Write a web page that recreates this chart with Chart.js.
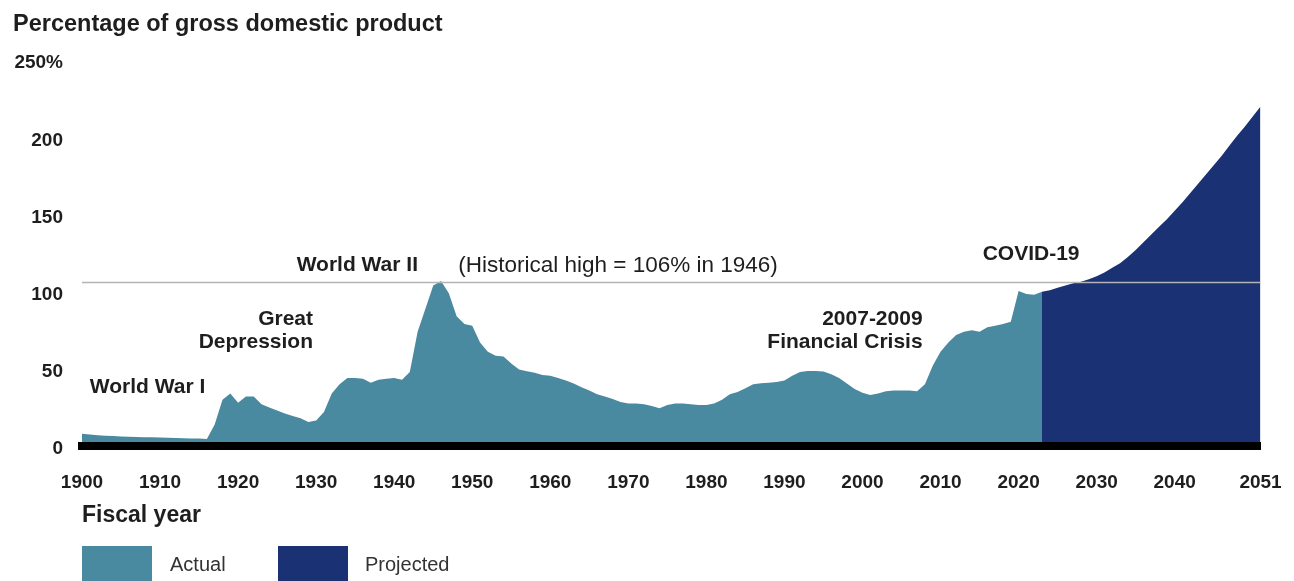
<!DOCTYPE html>
<html>
<head>
<meta charset="utf-8">
<script src="https://cdn.jsdelivr.net/npm/chart.js@4.4.1/dist/chart.umd.min.js"></script>
<style>
  body { margin: 0; background: #fff; }
  #wrap { position: relative; width: 1294px; height: 581px; overflow: hidden; }
  .legend-item { position: absolute; top: 546px; height: 40px; }
  .legend-box { position: absolute; left: 0; top: 0; width: 70px; height: 40px; }
  .legend-text { position: absolute; top: 7px; white-space: nowrap;
    font: 20px 'Liberation Sans', Arial, sans-serif; color: #333; }
</style>
</head>
<body>
<div id="wrap">
  <canvas id="debtChart" width="1294" height="581"></canvas>
  <div class="legend-item" style="left:82px">
    <div class="legend-box" style="background:#4a8aa0"></div>
    <div class="legend-text" style="left:88px">Actual</div>
  </div>
  <div class="legend-item" style="left:278px">
    <div class="legend-box" style="background:#1a3273"></div>
    <div class="legend-text" style="left:87px">Projected</div>
  </div>
</div>
<script>
// ===== DATA =====
const actualStartYear = 1900;
const actualDebt = [
  8, 7.5, 7, 6.7, 6.4, 6.2, 6, 5.8, 5.7, 5.6,               // 1900s
  5.5, 5.3, 5.2, 5, 4.9, 4.8, 4.5, 14, 30, 34,              // 1910s
  28, 32, 32, 27, 25, 23, 21, 19.5, 18, 15.5,               // 1920s
  16.5, 22, 34, 40, 44, 44, 43.5, 41, 43, 43.5,             // 1930s
  44, 43, 48, 74, 89, 104, 107, 99, 84, 79,                 // 1940s
  78, 67, 61, 58.5, 58, 53.5, 49.5, 48.5, 47.5, 46,         // 1950s
  45.5, 44, 42.5, 40.5, 38, 36, 33.5, 32, 30.5, 28.5,       // 1960s
  27.5, 27.5, 27, 26, 24.5, 26.5, 27.5, 27.5, 27, 26.5,     // 1970s
  26.5, 27.5, 30, 33.5, 35, 37.5, 40, 40.6, 41, 41.5,       // 1980s
  42.5, 45.5, 48, 48.6, 48.6, 48.3, 46.5, 44, 40.5, 37,     // 1990s
  34.5, 33, 34, 35.5, 36, 36, 36, 35.5, 40, 52,             // 2000s
  61, 67, 72, 74, 75, 74, 77, 78, 79, 80.5,                 // 2010s
  100.5, 98.5, 98, 100                                      // 2020s
];
const projectedStartYear = 2023;
const projectedDebt = [
  100, 101, 102.5, 104, 105.5, 106.5, 108, 110, 112.5, 115.5,
  118.5, 122.5, 127, 132, 137, 142, 147, 152.5, 158, 164,
  170, 176, 182, 188, 194.5, 201, 207, 213.5, 220
];
const historicalHigh = 106;
const xTickYears = [1900, 1910, 1920, 1930, 1940, 1950, 1960, 1970, 1980, 1990, 2000, 2010, 2020, 2030, 2040, 2051];
const yTickValues = [0, 50, 100, 150, 200, 250];

// ===== NOTES (anchored in data space) =====
const notes = [
  { text: 'World War I', year: 1901, value: 38, align: 'left' },
  { text: 'Great', year: 1929.6, value: 82, align: 'right' },
  { text: 'Depression', year: 1929.6, value: 67, align: 'right' },
  { text: 'World War II', year: 1927.5, value: 117, align: 'left' },
  { text: '(Historical high = 106% in 1946)', year: 1948.2, value: 117, align: 'left', normal: true },
  { text: '2007-2009', year: 2007.7, value: 82, align: 'right' },
  { text: 'Financial Crisis', year: 2007.7, value: 67, align: 'right' },
  { text: 'COVID-19', year: 2015.4, value: 124, align: 'left' }
];

const FONT = "'Liberation Sans', Arial, sans-serif";
const TEAL = '#4a8aa0';
const NAVY = '#1a3273';

const toPoints = (start, vals) => vals.map((v, i) => ({ x: start + i, y: v }));

const notesPlugin = {
  id: 'notes',
  afterDatasetsDraw(chart) {
    const { ctx, scales } = chart;
    ctx.save();
    ctx.fillStyle = '#1e1e1e';
    ctx.textBaseline = 'middle';
    notes.forEach(n => {
      ctx.font = n.normal ? '22.5px ' + FONT : 'bold 21px ' + FONT;
      ctx.textAlign = n.align;
      ctx.fillText(n.text, scales.x.getPixelForValue(n.year), scales.y.getPixelForValue(n.value));
    });
    ctx.restore();
  }
};

new Chart(document.getElementById('debtChart'), {
  type: 'line',
  data: {
    datasets: [
      {
        label: 'Historical high',
        data: [{ x: 1900, y: historicalHigh }, { x: 2051, y: historicalHigh }],
        borderColor: '#b4b4b4', borderWidth: 1.5, pointRadius: 0, fill: false, order: 0
      },
      {
        label: 'Actual',
        data: toPoints(actualStartYear, actualDebt),
        backgroundColor: TEAL, borderWidth: 0, pointRadius: 0, fill: 'origin', order: 1
      },
      {
        label: 'Projected',
        data: toPoints(projectedStartYear, projectedDebt),
        backgroundColor: NAVY, borderWidth: 0, pointRadius: 0, fill: 'origin', order: 2
      }
    ]
  },
  options: {
    responsive: false,
    animation: false,
    devicePixelRatio: 1,
    // right padding chosen so the 2023 split falls on a whole pixel (no seam)
    layout: { padding: { left: 13, right: 33.4634, top: 0, bottom: 52 } },
    plugins: {
      legend: { display: false },
      tooltip: { enabled: false },
      title: {
        display: true,
        text: 'Percentage of gross domestic product',
        align: 'start',
        color: '#1e1e1e',
        font: { family: FONT, size: 23.5, weight: 'bold' },
        padding: { top: 10, bottom: 22 }
      }
    },
    scales: {
      x: {
        type: 'linear',
        min: 1900,
        max: 2051,
        afterBuildTicks: s => { s.ticks = xTickYears.map(v => ({ value: v })); },
        afterFit: s => { s.height = 83; s.paddingRight = 0; s.paddingLeft = 0; },
        ticks: {
          autoSkip: false, maxRotation: 0, padding: 25, color: '#1e1e1e',
          font: { family: FONT, size: 19, weight: 'bold' },
          callback: v => String(v)
        },
        grid: { display: false, drawTicks: false },
        border: { display: true, color: '#000', width: 8, z: 1 },
        title: {
          display: true, text: 'Fiscal year', align: 'start', color: '#1e1e1e',
          font: { family: FONT, size: 23, weight: 'bold' },
          padding: { top: 8, bottom: 0 }
        }
      },
      y: {
        min: 0,
        max: 250,
        afterBuildTicks: s => { s.ticks = yTickValues.map(v => ({ value: v })); },
        afterFit: s => { s.width = 69; },
        ticks: {
          padding: 19, labelOffset: 3, color: '#1e1e1e',
          font: { family: FONT, size: 19, weight: 'bold' },
          callback: v => v === 250 ? v + '%' : String(v)
        },
        grid: { display: false, drawTicks: false },
        border: { display: false }
      }
    }
  },
  plugins: [notesPlugin]
});
</script>
</body>
</html>
